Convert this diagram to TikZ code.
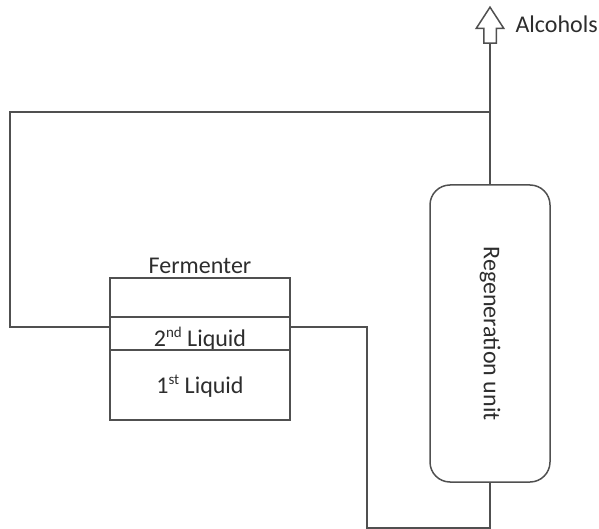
\documentclass[tikz,border=0pt]{standalone}
\usepackage{fontspec}
\setmainfont{Carlito}
\usepackage{graphicx}
\usetikzlibrary{positioning, shapes.arrows}
\definecolor{PipeGray}{RGB}{80, 80, 80}
\definecolor{LabelGray}{RGB}{45, 45, 45}
\newcommand{\ordsup}[1]{\raisebox{8.5pt}{\fontsize{15}{17}\selectfont #1}}

\begin{document}
\begin{tikzpicture}[
    x=1pt, y=-1pt,
    every node/.style={font=\fontsize{24}{28}\selectfont, text=LabelGray},
    section/.style={rectangle, draw=PipeGray, line width=1.5pt, minimum width=180pt, inner sep=0pt, outer sep=0pt, text depth=0pt},
    unitbox/.style={rectangle, draw=PipeGray, line width=1.5pt, rounded corners=20pt, minimum width=120pt, minimum height=297pt, inner sep=0pt, outer sep=0pt},
    outlet/.style={single arrow, draw=PipeGray, fill=white, line width=1.5pt, inner sep=5.5pt, outer sep=0pt, minimum height=36pt, single arrow head extend=7.5pt, single arrow tip angle=66},
    pipe/.style={draw=PipeGray, line width=1.5pt}
  ]
    \useasboundingbox (0,0) rectangle (599,529);

    % Fermenter
    \node[section, minimum height=39pt] (headspace) at (200,297.5) {};
    \node[section, minimum height=33pt, text height=25pt, below=0pt of headspace] (liquid2) {2\ordsup{nd} Liquid};
    \node[section, minimum height=70pt, text height=16pt, below=0pt of liquid2] (liquid1) {1\ordsup{st} Liquid};
    \node[anchor=base] (fermlabel) at ([yshift=5pt]headspace.north) {Fermenter};

    % Regeneration unit and outlet
    \node[unitbox] (regen) at (490,333.5) {\rotatebox{-90}{Regeneration unit}};
    \node[outlet, rotate=90] (outarrow) at (490,30) {};
    \node[anchor=base west] (alcohols) at (512,33) {Alcohols};

    \coordinate (tee) at (490,112);
    \coordinate (sump) at (490,528);

    % Connections
    \draw[pipe] (regen.north) -- (tee) -- (outarrow.tail);
    \draw[pipe] ([yshift=6.5pt]liquid2.west) -- ++(-100,0) |- (tee);
    \draw[pipe] ([yshift=6.5pt]liquid2.east) -- ++(77,0) |- (sump) -- (regen.south);
  \end{tikzpicture}
\end{document}
